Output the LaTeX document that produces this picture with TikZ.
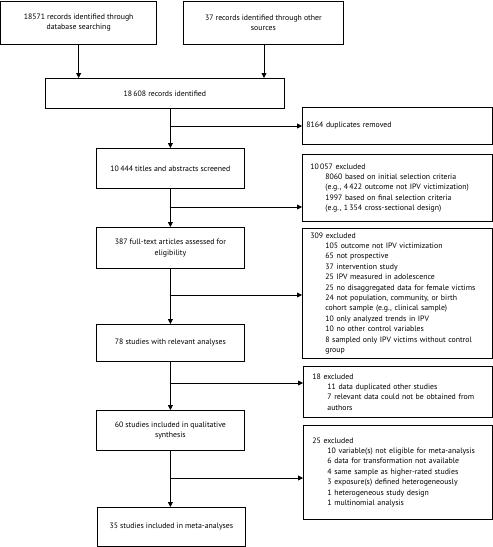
\documentclass[tikz,border=0pt]{standalone}
\usepackage{fontspec}
\setmainfont{PT Sans}
\usetikzlibrary{arrows.meta}
\newcommand{\subind}{\hspace*{15pt}}
\tikzset{
  box/.style={draw=black, line width=0.8pt, anchor=north west, inner sep=0pt,
    align=center, font=\fontsize{7.8}{10.4}\selectfont},
  excl/.style={draw=black, line width=0.8pt, anchor=north west, inner xsep=8pt, inner ysep=0pt,
    align=left, font=\fontsize{7.8}{10.4}\selectfont},
  arr/.style={line width=0.8pt, -{Triangle[length=5pt,width=5pt]}},
  ln/.style={line width=0.8pt}
}
\begin{document}
\begin{tikzpicture}[x=1pt,y=-1pt]
\useasboundingbox (0,0) rectangle (493,547);
% main column
\node[box, minimum width=155.5pt, minimum height=43.5pt] (b1) at (0.5,0.5) {18571 records identified through\\database searching};
\node[box, minimum width=160pt, minimum height=43.5pt] (b2) at (183,0.5) {37 records identified through other\\sources};
\node[box, minimum width=239pt, minimum height=30pt] (b3) at (45,78) {18\,608 records identified};
\node[box, minimum width=148pt, minimum height=40pt] (b4) at (96,148) {10\,444 titles and abstracts screened};
\node[box, minimum width=148pt, minimum height=41pt] (b5) at (96,227) {387 full-text articles assessed for\\eligibility};
\node[box, minimum width=148pt, minimum height=37pt] (b6) at (96,324) {78 studies with relevant analyses};
\node[box, minimum width=148pt, minimum height=40pt] (b7) at (96,410) {60 studies included in qualitative\\synthesis};
\node[box, minimum width=148pt, minimum height=39pt] (b8) at (97,507) {35 studies included in meta-analyses};
% exclusion boxes
\node[excl, inner xsep=4pt, text width=182pt, minimum width=190pt, minimum height=37pt] (dup) at (302,107) {8164 duplicates removed};
\node[excl, text width=174pt, minimum width=190pt, minimum height=67pt] (ex1) at (302,154) {10\,057 excluded\\
\subind 8060 based on initial selection criteria\\
\subind (e.g., 4\,422 outcome not IPV victimization)\\
\subind 1997 based on final selection criteria\\
\subind (e.g., 1\,354 cross-sectional design)};
\node[excl, text width=174pt, minimum width=190pt, minimum height=130pt] (ex2) at (302,228) {309 excluded\\
\subind 105 outcome not IPV victimization\\
\subind 65 not prospective\\
\subind 37 intervention study\\
\subind 25 IPV measured in adolescence\\
\subind 25 no disaggregated data for female victims\\
\subind 24 not population, community, or birth\\
\subind cohort sample (e.g., clinical sample)\\
\subind 10 only analyzed trends in IPV\\
\subind 10 no other control variables\\
\subind 8 sampled only IPV victims without control\\
\subind group};
\node[excl, inner xsep=9pt, text width=171pt, minimum width=189pt, minimum height=51pt] (ex3) at (303,366) {18 excluded\\
\subind 11 data duplicated other studies\\
\subind 7 relevant data could not be obtained from\\
\subind authors};
\node[excl, inner xsep=9pt, text width=171pt, minimum width=189pt, minimum height=94pt] (ex4) at (303,425) {25 excluded\\
\subind 10 variable(s) not eligible for meta-analysis\\
\subind 6 data for transformation not available\\
\subind 4 same sample as higher-rated studies\\
\subind 3 exposure(s) defined heterogeneously\\
\subind 1 heterogeneous study design\\
\subind 1 multinomial analysis};
% junctions
\coordinate (j0) at (170,126);
\coordinate (j1) at (170,207);
\coordinate (j2) at (170,295);
\coordinate (j3) at (170,383);
\coordinate (j4) at (170,478);
\coordinate (b2s) at (264,44);
% arrows
\draw[arr] (b1.south) -- (b1.south |- b3.north);
\draw[arr] (b2s) -- (b2s |- b3.north);
\draw[arr] (b4.north |- b3.south) -- (b4.north);
\draw[arr] (j0) -- (j0 -| dup.west);
\draw[arr] (b4.south) -- (b5.north);
\draw[arr] (j1) -- (j1 -| ex1.west);
\draw[arr] (b5.south) -- (b6.north);
\draw[arr] (j2) -- (j2 -| ex2.west);
\draw[arr] (b6.south) -- (b7.north);
\draw[arr] (j3) -- (j3 -| ex3.west);
\draw[arr] (b7.south) -- (b7.south |- b8.north);
\draw[arr] (j4) -- (j4 -| ex4.west);
\end{tikzpicture}
\end{document}
